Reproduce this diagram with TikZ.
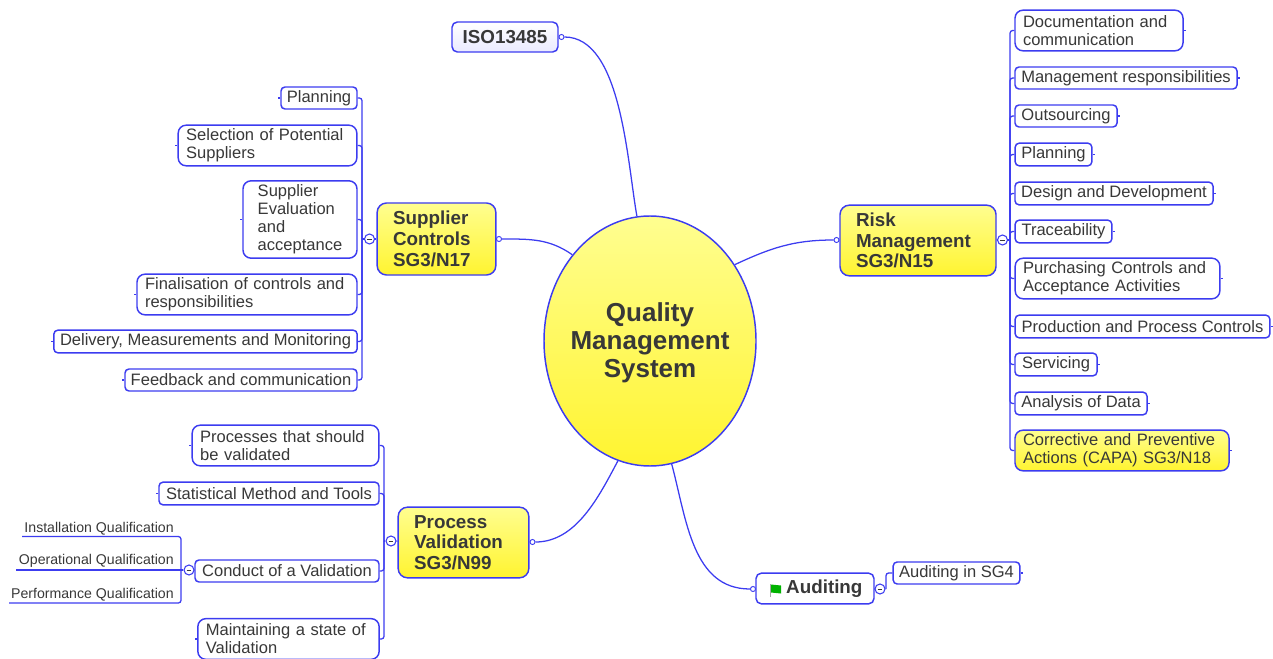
\documentclass[tikz,border=0pt]{standalone}
\usepackage{fontspec}
\setmainfont{Liberation Sans}
\usetikzlibrary{shapes.geometric}
\definecolor{mapblue}{HTML}{3C3CF0}
\definecolor{maptext}{HTML}{383838}
\definecolor{topyellow}{HTML}{FFFE90}
\definecolor{midyellow}{HTML}{FFF93A}
\definecolor{lowyellow}{HTML}{FFF430}
\tikzset{link/.style={draw=mapblue,line width=0.95pt}}
\tikzset{leaf/.style={draw=mapblue,line width=1.1pt,fill=white,rounded corners=3pt,inner sep=0pt,align=left,text=maptext,font=\fontsize{12.4}{13.5}\selectfont}}
\tikzset{block/.style={rounded corners=6pt,inner xsep=6pt,text width=#1-12pt}}
\tikzset{topic/.style={leaf,rounded corners=7pt,font=\fontsize{14.1}{15.5}\selectfont\bfseries}}
\tikzset{topicblock/.style={rounded corners=7pt,inner xsep=12pt,text width=#1-24pt}}
\tikzset{sunny/.style={top color=topyellow,middle color=midyellow,bottom color=lowyellow}}
\tikzset{qual/.style={inner sep=0pt,anchor=south east,text=maptext,font=\fontsize{10.6}{11}\selectfont}}
\tikzset{pin/.style={circle,draw=mapblue,line width=0.7pt,fill=white,inner sep=0pt,minimum size=3.8pt}}
\tikzset{fold/.style={circle,draw=mapblue,line width=0.8pt,fill=white,inner sep=0pt,minimum size=7.5pt,
  path picture={\draw[maptext,line width=0.6pt] ([xshift=-1.8pt]path picture bounding box.center) -- ([xshift=1.8pt]path picture bounding box.center);}}}

\begin{document}
\begin{tikzpicture}[x=0.75pt,y=-0.75pt]
\useasboundingbox (0,0) rectangle (1273,659);

% Central Ellipse
\node[ellipse,draw=mapblue,line width=1.1pt,sunny,inner sep=0pt,minimum width=159pt,minimum height=187.5pt] (quality) at (650,341) {};
\node[align=center,text=maptext,font=\fontsize{19.5}{21}\selectfont\bfseries] (qualitytext) at (650,343) {Quality\\Management\\System};

% Main Topics
\node[topic,top color=white,bottom color=blue!8,minimum width=79.5pt,minimum height=22.5pt,rounded corners=4pt] (iso) at (505,37) {ISO13485};
\node[topic,sunny,topicblock=89pt,minimum height=54pt] (supplier) at (436.5,239) {Supplier\\Controls\\SG3/N17};
\node[topic,sunny,topicblock=117pt,minimum height=53pt] (risk) at (918,240.5) {Risk\\Management\\SG3/N15};
\node[topic,sunny,topicblock=98pt,minimum height=53pt] (process) at (463.5,542.5) {Process\\Validation\\SG3/N99};
\node[topic,minimum width=88.5pt,minimum height=23pt,rounded corners=4pt] (auditing) at (815,588.5) {\hspace*{14pt}Auditing};

% Supplier Leaves
\node[leaf,minimum width=57pt,minimum height=16.5pt] (splan) at (319,98) {Planning};
\node[leaf,block=134pt,minimum height=30.5pt] (select) at (267.5,145.5) {Selection of Potential\\Suppliers};
\node[leaf,rounded corners=6pt,minimum width=85.5pt,minimum height=58pt] (evaluate) at (300,219.5) {Supplier\\Evaluation\\and\\acceptance};
\node[leaf,block=165pt,minimum height=30.5pt] (finalise) at (247,294.5) {Finalisation of controls and\\responsibilities};
\node[leaf,minimum width=227.5pt,minimum height=17pt] (delivery) at (205.5,341.5) {Delivery, Measurements and Monitoring};
\node[leaf,minimum width=174pt,minimum height=16.5pt] (feedback) at (241,380) {Feedback and communication};

% Process Leaves
\node[leaf,block=140pt,minimum height=30.5pt] (tovalidate) at (285.5,445.5) {Processes that should\\be validated};
\node[leaf,minimum width=165pt,minimum height=17pt] (statistics) at (269,493.5) {Statistical Method and Tools};
\node[leaf,minimum width=138pt,minimum height=16.5pt] (conduct) at (287,571) {Conduct of a Validation};
\node[leaf,block=136pt,minimum height=30.5pt] (maintain) at (288.5,639) {Maintaining a state of\\Validation};

% Qualifications
\node[qual] (install) at (174,535) {Installation Qualification};
\node[qual] (operate) at (174,568) {Operational Qualification};
\node[qual] (perform) at (174,601) {Performance Qualification};

% Risk Leaves
\node[leaf,block=126pt,minimum height=30.5pt] (docs) at (1099,30.5) {Documentation and\\communication};
\node[leaf,minimum width=166.5pt,minimum height=16.5pt] (manage) at (1126,78) {Management responsibilities};
\node[leaf,minimum width=76.5pt,minimum height=16.5pt] (outsource) at (1066,116) {Outsourcing};
\node[leaf,minimum width=57.5pt,minimum height=17pt] (rplan) at (1053.5,154.5) {Planning};
\node[leaf,minimum width=148.5pt,minimum height=17pt] (design) at (1114,193.5) {Design and Development};
\node[leaf,minimum width=72.5pt,minimum height=17pt] (trace) at (1063.5,231.5) {Traceability};
\node[leaf,block=153.5pt,minimum height=30.5pt] (purchase) at (1117.5,278.5) {Purchasing Controls and\\Acceptance Activities};
\node[leaf,minimum width=191pt,minimum height=17pt] (produce) at (1142.5,326.5) {Production and Process Controls};
\node[leaf,minimum width=61.5pt,minimum height=17pt] (service) at (1056,364.5) {Servicing};
\node[leaf,minimum width=99pt,minimum height=17pt] (analyse) at (1081,403.5) {Analysis of Data};
\node[leaf,sunny,block=160.5pt,minimum height=30.5pt] (capa) at (1122,450.5) {Corrective and Preventive\\Actions (CAPA) SG3/N18};

% Auditing Leaf
\node[leaf,minimum width=95pt,minimum height=16.5pt] (sgfour) at (956.5,573) {Auditing in SG4};

% Small Circles
\node[pin] (isopin) at (561.5,37) {};
\node[pin] (supplierpin) at (499,239) {};
\node[pin] (riskpin) at (836.5,240) {};
\node[pin] (processpin) at (532.5,542) {};
\node[pin] (auditpin) at (753,589) {};

% Spine Points
\coordinate (supplierspine) at (362,239);
\coordinate (processspine) at (384,541);
\coordinate (riskspine) at (1010,240);
\coordinate (qualspine) at (181,570);
\coordinate (auditspine) at (886,589);
\coordinate (installend) at (22,536.5);
\coordinate (operateend) at (16,570);
\coordinate (performend) at (9,603);

% Topic Connectors
\draw[link] (isopin) to[out=0,in=100,looseness=0.75] (quality.96);
\draw[link] (supplierpin) to[out=0,in=145] (quality.132);
\draw[link] (riskpin) to[out=180,in=25] (quality.42.5);
\draw[link] (processpin) to[out=0,in=-118,looseness=0.9] (quality.255);
\draw[link] (auditpin) to[out=180,in=-75] (quality.280.6);

% Leaf Connectors
\foreach \leafname in {splan,select,evaluate,finalise,delivery,feedback}
  \draw[link,rounded corners=2pt] (\leafname.east) -- (\leafname.east -| supplierspine) -- (supplierspine);
\foreach \leafname in {tovalidate,statistics,conduct,maintain}
  \draw[link,rounded corners=2pt] (\leafname.east) -- (\leafname.east -| processspine) -- (processspine);
\foreach \leafname in {docs,manage,outsource,rplan,design,trace,purchase,produce,service,analyse,capa}
  \draw[link,rounded corners=2pt] (\leafname.west) -- (\leafname.west -| riskspine) -- (riskspine);
\draw[link,rounded corners=2pt] (sgfour.west) -- (sgfour.west -| auditspine) -- (auditspine);
\draw[link,rounded corners=2pt] (installend) -- (installend -| qualspine) -- (qualspine);
\draw[link] (operateend) -- (qualspine);
\draw[link,rounded corners=2pt] (performend) -- (performend -| qualspine) -- (qualspine);

% Outer Ticks
\foreach \leafname in {splan,select,evaluate,finalise,delivery,feedback,tovalidate,statistics,maintain}
  \draw[link] (\leafname.west) -- ++(-2,0);
\foreach \leafname in {docs,manage,outsource,rplan,design,trace,purchase,produce,service,analyse,capa,sgfour}
  \draw[link] (\leafname.east) -- ++(2,0);

% Fold Circles
\node[fold] (supplierfold) at (369.5,239) {};
\node[fold] (processfold) at (391,541) {};
\node[fold] (riskfold) at (1002.5,240) {};
\node[fold] (qualfold) at (189,570) {};
\node[fold] (auditfold) at (880,589) {};
\draw[link] (supplierfold) -- (supplier);
\draw[link] (supplierfold) -- (supplierspine);
\draw[link] (processfold) -- (process);
\draw[link] (processfold) -- (processspine);
\draw[link] (riskfold) -- (risk);
\draw[link] (riskfold) -- (riskspine);
\draw[link] (qualfold) -- (conduct);
\draw[link] (qualfold) -- (qualspine);
\draw[link] (auditfold) -- (auditing);

% Flag
\fill[gray!70] (769.5,584) rectangle (771,597);
\fill[green!70!black] (771,584.5) -- (781,585.5) -- (781,593.5) -- (771,592.5) -- cycle;
\end{tikzpicture}
\end{document}
